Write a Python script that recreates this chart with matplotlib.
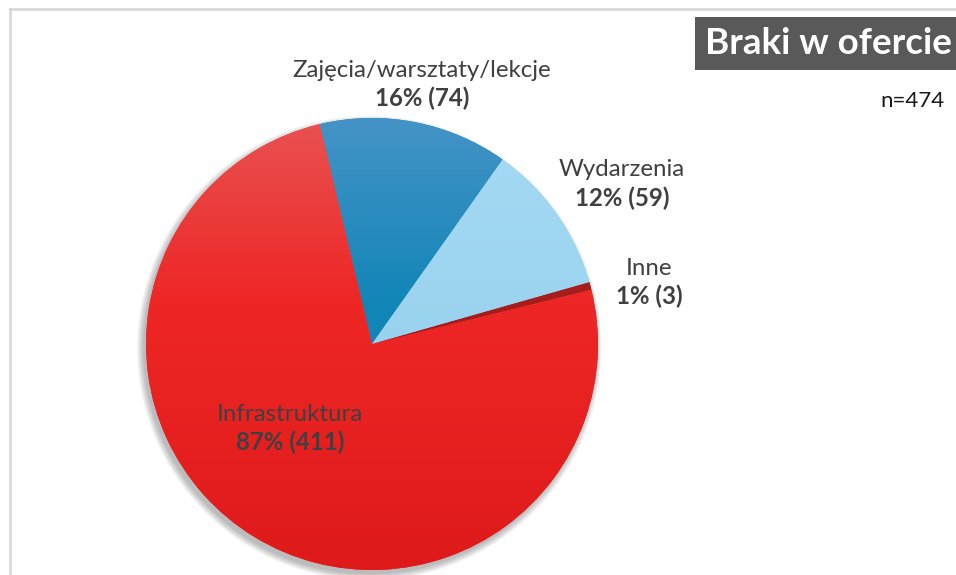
import matplotlib
matplotlib.use("Agg")
import matplotlib.pyplot as plt
import matplotlib.patches as mpatches
import numpy as np

plt.rcParams['font.family'] = ['Lato', 'DejaVu Sans']

# data (multiple answers, so percents are of n=474)
labels = ["Zajęcia/warsztaty/lekcje", "Wydarzenia", "Inne", "Infrastruktura"]
counts = [74, 59, 3, 411]
percents = [16, 12, 1, 87]
n_total = 474
title = "Braki w ofercie"

# gradient stops (top of pie -> bottom of pie) for each slice
grad_stops = [0.0, 0.4, 1.0]
slice_grads = [
    ["#4593c6", "#1386b8", "#0e7fb2"],
    ["#a6daf3", "#9cd4f0", "#8acbea"],
    ["#b02a2a", "#a51d1d", "#9c1515"],
    ["#e95252", "#ee2626", "#df1a1a"],
]

label_pos = [(0.221, 1.150), (1.106, 0.708), (1.226, 0.274), (-0.363, -0.372)]
text_col = "#404040"

fig = plt.figure(figsize=(9.56, 5.75), dpi=100)

# light border of the chart area
fig.add_artist(plt.Line2D([9.5 / 956, 9.5 / 956], [0, 1 - 8.5 / 575], color="#d9d9d9", lw=2))
fig.add_artist(plt.Line2D([9.5 / 956, 1], [1 - 8.5 / 575, 1 - 8.5 / 575], color="#d9d9d9", lw=2))

ax = fig.add_axes([146 / 956, 5 / 575, 452 / 956, 452 / 575])
ax.set_aspect("equal")
ax.axis("off")

# soft shadow under the pie
for i in range(8):
    ax.add_patch(mpatches.Circle((-0.012, -0.018), 1.0 + 0.004 * i, color="black",
                                 alpha=0.035, lw=0, zorder=0, clip_on=False))

wedges, _ = ax.pie(counts, startangle=103.4, counterclock=False, radius=1.0,
                   colors=[g[1] for g in slice_grads], wedgeprops=dict(lw=0))

# vertical gradient inside each slice
t = np.linspace(0, 1, 256)
for w, stops in zip(wedges, slice_grads):
    w.set_zorder(1)
    rgb = np.array([matplotlib.colors.to_rgb(c) for c in stops])
    img = np.stack([np.interp(t, grad_stops, rgb[:, k]) for k in range(3)], axis=1)[:, None, :]
    im = ax.imshow(img, extent=(-1, 1, -1, 1), origin="upper", aspect="auto", zorder=2)
    im.set_clip_path(w)

ax.set_xlim(-1, 1)
ax.set_ylim(-1, 1)

for lab, p, c, (x, y) in zip(labels, percents, counts, label_pos):
    ax.text(x, y + 0.062, lab, ha="center", va="center", fontsize=17.3, color=text_col, zorder=5)
    ax.text(x, y - 0.062, f"{p}% ({c})", ha="center", va="center", fontsize=17.3,
            fontweight="bold", color=text_col, zorder=5)

# title box cut at right edge
fig.patches.append(mpatches.Rectangle((695 / 956, 1 - 70 / 575), 270 / 956, 53 / 575,
                                      transform=fig.transFigure, color="#595959", lw=0))
fig.text(705 / 956, 1 - 44 / 575, title, ha="left", va="center", fontsize=26.5,
         fontweight="bold", color="white")
fig.text(944 / 956, 1 - 101 / 575, f"n={n_total}", ha="right", va="center",
         fontsize=16, color="#1a1a1a")

fig.savefig("out.png", dpi=100)
